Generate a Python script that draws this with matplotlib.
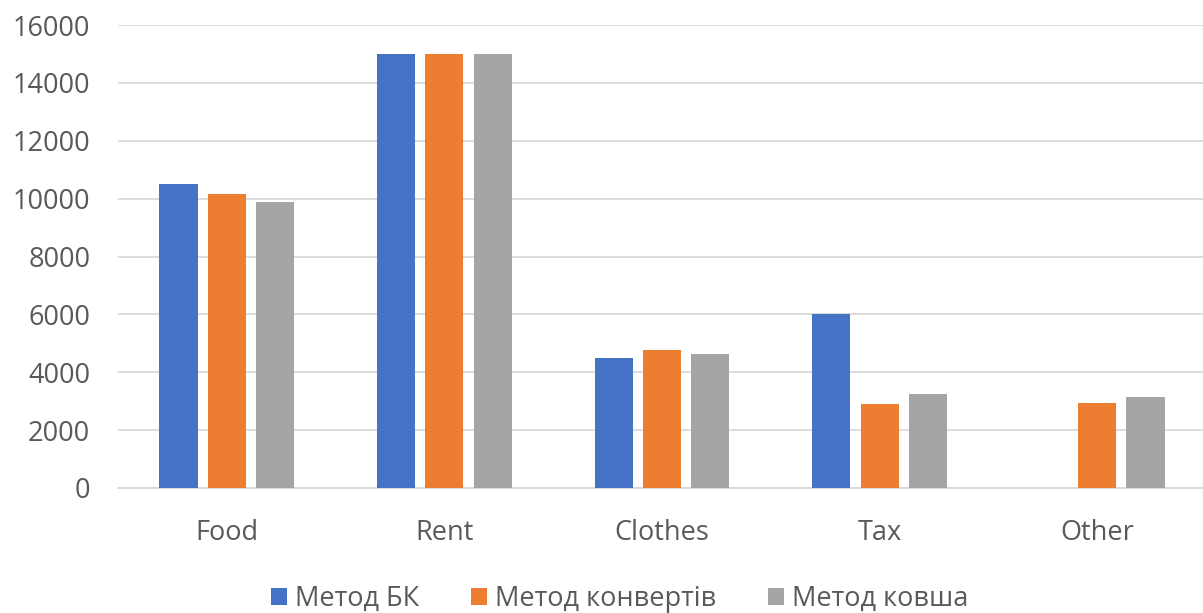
import numpy as np
import matplotlib
matplotlib.use("Agg")
import matplotlib.pyplot as plt

# data
categories = ["Food", "Rent", "Clothes", "Tax", "Other"]
series_names = ["Метод БК", "Метод конвертів", "Метод ковша"]
metod_bk = [10500, 15000, 4500, 6000, 0]
metod_konvertiv = [10150, 15000, 4770, 2920, 2930]
metod_kovsha = [9880, 15000, 4640, 3260, 3140]
colors = ["#4472C4", "#ED7D31", "#A5A5A5"]
yticks = [0, 2000, 4000, 6000, 8000, 10000, 12000, 14000, 16000]

plt.rcParams['font.family'] = ['Open Sans', 'DejaVu Sans']
text_color = "#595959"

fig = plt.figure(figsize=(12.03, 6.13), dpi=100)
ax = fig.add_axes([118 / 1203, 1 - 488 / 613, 1088 / 1203, 463 / 613])

x = np.arange(len(categories))
width = 0.175
step = 0.222
for i, (vals, name, c) in enumerate(zip([metod_bk, metod_konvertiv, metod_kovsha], series_names, colors)):
    ax.bar(x + (i - 1) * step, vals, width, color=c, label=name, zorder=3)

ax.set_xlim(-0.5, len(categories) - 0.5)
ax.set_ylim(0, 16000)
ax.set_yticks(yticks)
ax.set_xticks(x)
ax.set_xticklabels(categories)
ax.yaxis.grid(True, color="#D9D9D9", linewidth=1.3, zorder=0)
ax.tick_params(axis='both', length=0, labelsize=19.5, labelcolor=text_color)
ax.tick_params(axis='y', pad=20)
ax.tick_params(axis='x', pad=22)
for side in ["top", "right", "left"]:
    ax.spines[side].set_visible(False)
ax.spines["bottom"].set_color("#D9D9D9")
ax.spines["bottom"].set_linewidth(1.3)

leg = fig.legend(loc="lower center", ncol=3, frameon=False, fontsize=19.5,
                 handlelength=0.6, handleheight=0.6, handletextpad=0.3,
                 columnspacing=1.9, bbox_to_anchor=(0.515, -0.04))
for t in leg.get_texts():
    t.set_color(text_color)

fig.savefig("out.png", dpi=100)
